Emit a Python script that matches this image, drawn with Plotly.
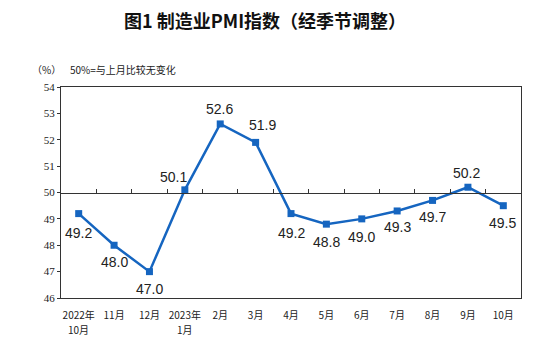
import plotly.graph_objects as go

months = ["2022年10月", "11月", "12月", "2023年1月", "2月", "3月", "4月",
          "5月", "6月", "7月", "8月", "9月", "10月"]
tick_line1 = ["2022年", "11月", "12月", "2023年", "2月", "3月", "4月",
              "5月", "6月", "7月", "8月", "9月", "10月"]
tick_line2 = ["10月", "", "", "1月", "", "", "", "", "", "", "", "", ""]
pmi = [49.2, 48.0, 47.0, 50.1, 52.6, 51.9, 49.2, 48.8, 49.0, 49.3, 49.7, 50.2, 49.5]
y_ticks = [46, 47, 48, 49, 50, 51, 52, 53, 54]

# label offsets in pixels (style only)
label_dx = [0, 0, 0, -11, -1, 7, 0, 0, 0, 0, 0, -1, -1]
label_dy = [-19, -17, -17, 13, 15, 17, -19, -18, -18, -16, -17, 14, -17]

blue = "#1565c0"
# page body has an 8px margin, so the figure is laid out 8px smaller
W, H = 547, 347
L, R, T, B = 53, 34, 79, 57

fig = go.Figure()
fig.add_trace(go.Scatter(
    x=months, y=pmi, mode="lines+markers",
    line=dict(color=blue, width=2.5),
    marker=dict(symbol="square", size=7, color=blue),
    cliponaxis=False, showlegend=False, hoverinfo="x+y",
))
# invisible trace to carry the axis drawn through y = 50
fig.add_trace(go.Scatter(x=months, y=pmi, xaxis="x2", mode="markers",
                         marker=dict(opacity=0), showlegend=False, hoverinfo="skip"))

pw, ph = W - L - R, H - T - B


def px(x):
    return (x - L) / pw


def py(y):
    return (H - B - y) / ph


small_font = dict(family="Noto Sans CJK SC, SimSun", size=10, color="#222222")

labels = [
    dict(x=m, y=v, text=f"{v:.1f}", xref="x", yref="y", showarrow=False,
         xshift=dx, yshift=dy, xanchor="center", yanchor="middle",
         font=dict(family="Liberation Sans, Arial", size=14, color="#222222"))
    for m, v, dx, dy in zip(months, pmi, label_dx, label_dy)
]
second_lines = [
    dict(x=m, y=py(321), text=t, xref="x", yref="paper", showarrow=False,
         xanchor="center", yanchor="middle", font=small_font)
    for m, t in zip(months, tick_line2) if t
]

fig.update_layout(
    width=W, height=H,
    margin=dict(l=L, r=R, t=T, b=B),
    paper_bgcolor="white", plot_bgcolor="white",
    title=dict(text="<b>图1 制造业PMI指数（经季节调整）</b>", x=0.47, xanchor="center",
               y=1 - 14 / H, yanchor="middle",
               font=dict(family="Noto Sans CJK SC", size=18, color="#111111")),
    xaxis=dict(type="category", range=[-0.5, 12.5], showline=True, mirror=True,
               linecolor="#333333", linewidth=1, ticks="", showgrid=False,
               tickvals=months, ticktext=tick_line1,
               tickfont=small_font, ticklabelstandoff=8),
    xaxis2=dict(type="category", range=[-0.5, 12.5], overlaying="x", anchor="free",
                position=0.5, showline=True, linecolor="#333333", linewidth=1,
                ticks="inside", ticklen=4, tickcolor="#333333", tickson="boundaries",
                showticklabels=False, showgrid=False, matches="x"),
    yaxis=dict(range=[46, 54], tickvals=y_ticks, showline=True, mirror=True,
               linecolor="#333333", linewidth=1, ticks="outside", ticklen=3,
               tickcolor="#333333", showgrid=False, zeroline=False,
               tickfont=dict(family="Liberation Serif, Times New Roman", size=11, color="#222222")),
    annotations=labels + second_lines + [
        dict(text="（%）", x=px(38), y=py(62), xanchor="center", yanchor="middle",
             xref="paper", yref="paper", showarrow=False, font=small_font),
        dict(text="50%=与上月比较无变化", x=px(60), y=py(62), xanchor="left", yanchor="middle",
             xref="paper", yref="paper", showarrow=False, font=small_font),
    ],
)

fig.write_html("out.html")
